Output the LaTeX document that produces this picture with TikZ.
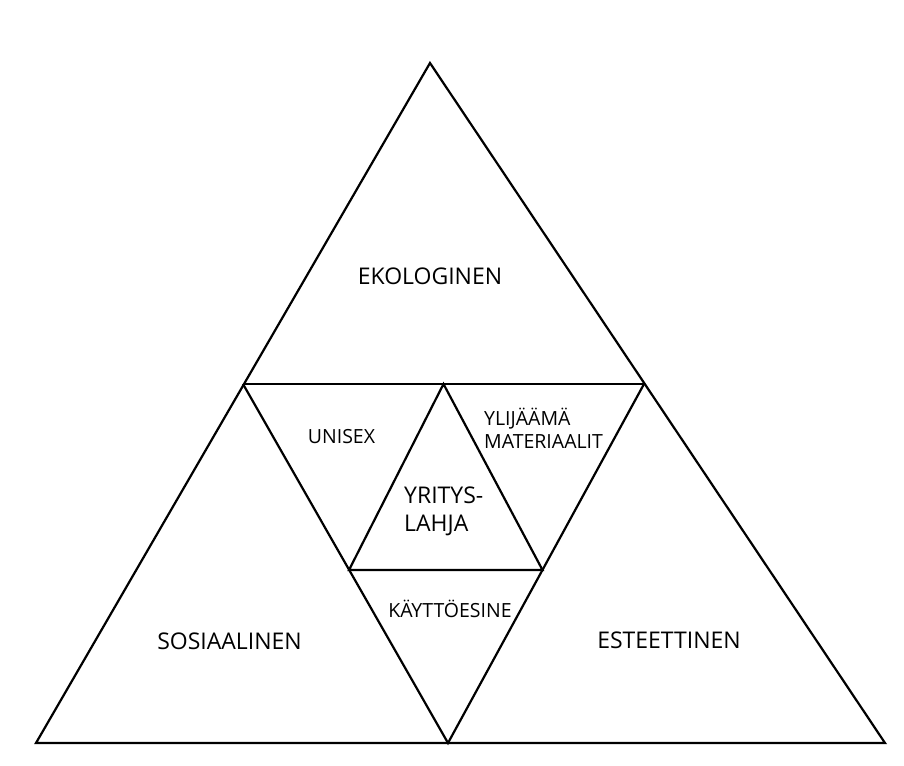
\documentclass[tikz,border=0pt]{standalone}
\usepackage{fontspec}
\setmainfont{Open Sans}
\begin{document}
\begin{tikzpicture}[x=1pt,y=-1pt,
  edge/.style={line width=2.2pt, line join=miter, line cap=butt},
  big/.style={inner sep=0pt, font=\fontsize{23}{26}\selectfont},
  small/.style={inner sep=0pt, font=\fontsize{19.5}{22}\selectfont}]
\useasboundingbox[fill=white] (0,0) rectangle (904,765);
% vertices
\coordinate (A) at (430,63);
\coordinate (L) at (243,384);
\coordinate (R) at (644,384);
\coordinate (BL) at (36,743);
\coordinate (M) at (448,743);
\coordinate (BR) at (885,743);
\coordinate (I) at (443.5,384);
\coordinate (IL) at (349,570);
\coordinate (IR) at (542.5,570);
% outer triangle and subdivisions
\draw[edge] (BL) -- (A) -- (BR) -- cycle;
\draw[edge] (L) -- (R);
\draw[edge] (L) -- (M) -- (R);
\draw[edge] (I) -- (IL) -- (IR) -- cycle;
% labels
\node[big, anchor=base] (eko) at (430,284) {EKOLOGINEN};
\node[big, anchor=base] (sos) at (229.5,649) {SOSIAALINEN};
\node[big, anchor=base] (est) at (669,648) {ESTEETTINEN};
\node[small, anchor=base] (uni) at (341.5,443) {UNISEX};
\node[small, anchor=base west] (yli) at (484,425) {YLIJÄÄMÄ};
\node[small, anchor=base west] (mat) at (484,448) {MATERIAALIT};
\node[big, anchor=base west] (yri) at (404,503) {YRITYS-};
\node[big, anchor=base west] (lah) at (404,531) {LAHJA};
\node[small, anchor=base] (kay) at (450,617) {KÄYTTÖESINE};
\end{tikzpicture}
\end{document}
